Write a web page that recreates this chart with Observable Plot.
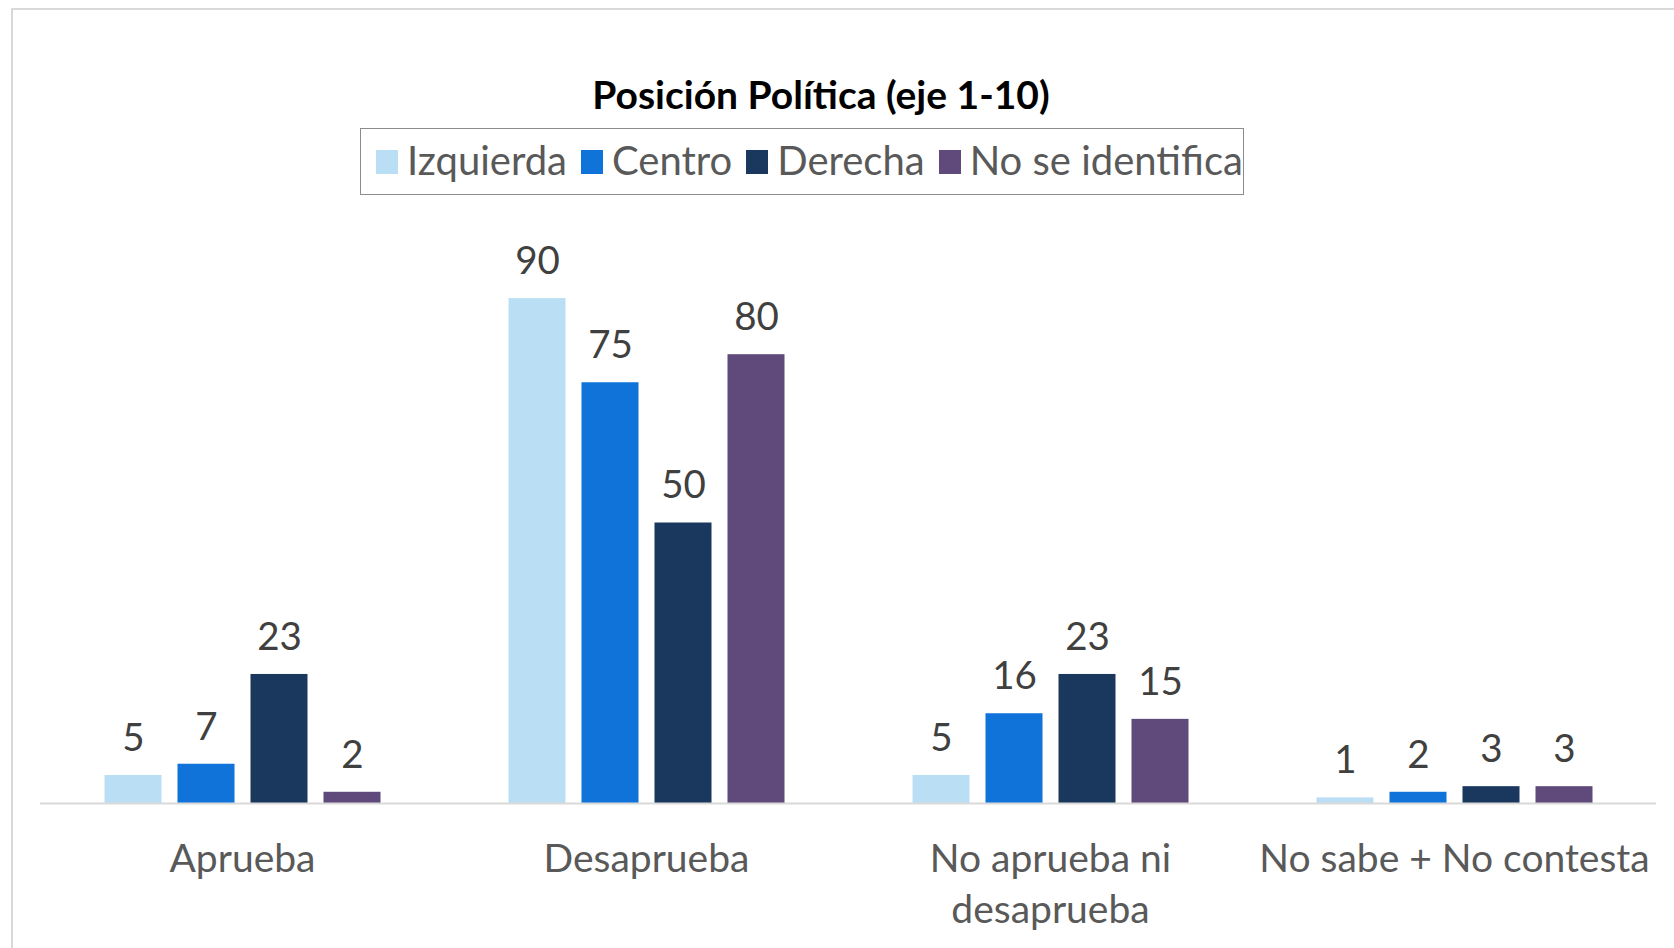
<!DOCTYPE html>
<html><head><meta charset="utf-8">
<script src="https://cdn.jsdelivr.net/npm/d3@7"></script>
<script src="https://cdn.jsdelivr.net/npm/@observablehq/plot@0.6"></script>
<style>
body{margin:0;background:#fff;}
#wrap{position:relative;width:1674px;height:948px;overflow:hidden;font-family:Lato,"Open Sans",sans-serif;background:#fff;}
#frame{position:absolute;left:11px;top:8px;width:1700px;height:1000px;border-left:2px solid #D9D9D9;border-top:2px solid #D9D9D9;}
#title{position:absolute;left:0;width:1642px;top:71px;text-align:center;font-weight:bold;font-size:39px;line-height:46px;color:#000;}
#legend{position:absolute;left:360px;top:128px;width:884px;height:67px;box-sizing:border-box;border:1.5px solid #8c8c8c;display:flex;align-items:center;padding-left:15px;gap:14px;white-space:nowrap;overflow:hidden;}
.item{display:flex;align-items:center;font-size:40px;line-height:46px;color:#595959;margin-top:-4px;}
.sw{width:22px;height:24px;margin-right:9px;display:inline-block;margin-top:4px;}
#chart{position:absolute;left:0;top:200px;}
</style></head>
<body>
<div id="wrap">
  <div id="frame"></div>
  <div id="title">Posición Política (eje 1-10)</div>
  <div id="legend"></div>
  <div id="chart"></div>
</div>
<script>
const categories = ["Aprueba", "Desaprueba", "No aprueba ni desaprueba", "No sabe + No contesta"];
const categoryLabels = ["Aprueba", "Desaprueba", "No aprueba ni\ndesaprueba", "No sabe + No contesta"];
const series = ["Izquierda", "Centro", "Derecha", "No se identifica"];
const colors = ["#BADFF5", "#0F73D9", "#1A375E", "#604A7B"];
const izquierda = [5, 90, 5, 1];
const centro = [7, 75, 16, 2];
const derecha = [23, 50, 23, 3];
const noSeIdentifica = [2, 80, 15, 3];

const seriesValues = [izquierda, centro, derecha, noSeIdentifica];
const data = [];
categories.forEach((c, i) => {
  series.forEach((s, j) => data.push({category: c, series: s, value: seriesValues[j][i]}));
});

// legend
const legend = document.getElementById("legend");
series.forEach((s, j) => {
  const it = document.createElement("div");
  it.className = "item";
  const sw = document.createElement("span");
  sw.className = "sw";
  sw.style.background = colors[j];
  it.appendChild(sw);
  it.appendChild(document.createTextNode(s));
  legend.appendChild(it);
});

const labelMap = new Map(categories.map((c, i) => [c, categoryLabels[i]]));

const chart = Plot.plot({
  width: 1674,
  height: 748,
  marginLeft: 39.5,
  marginRight: 18,
  marginTop: 42,
  marginBottom: 145,
  style: {fontFamily: "Lato, 'Open Sans', sans-serif", background: "transparent"},
  fx: {domain: categories, padding: 0, axis: null},
  x: {domain: series, paddingInner: 0.222, paddingOuter: 0.866, axis: null},
  y: {domain: [0, 100], axis: null},
  color: {domain: series, range: colors},
  marks: [
    Plot.barY(data, {fx: "category", x: "series", y: "value", fill: "series"}),
    Plot.ruleY([0], {stroke: "#D9D9D9", strokeWidth: 2}),
    Plot.text(data, {fx: "category", x: "series", y: "value", text: d => String(d.value), dy: -37, fontSize: 38.5, fill: "#404040", lineAnchor: "middle"}),
    Plot.text(categories, {fx: d => d, text: d => labelMap.get(d), frameAnchor: "bottom", lineAnchor: "top", dy: 32, fontSize: 39, lineHeight: 1.31, fill: "#595959"})
  ]
});
document.getElementById("chart").appendChild(chart);
</script>
</body></html>
